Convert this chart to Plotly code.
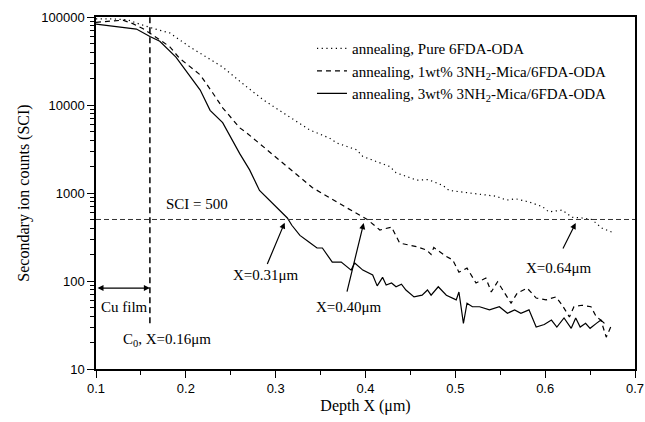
import math
import plotly.graph_objects as go

# ---- data ----
depth_pure = [0.1, 0.12, 0.135, 0.15, 0.168, 0.182, 0.204, 0.241, 0.268, 0.286, 0.304, 0.338, 0.36,
              0.368, 0.39, 0.397, 0.427, 0.434, 0.457, 0.47, 0.486, 0.493, 0.516, 0.545, 0.557, 0.567,
              0.582, 0.597, 0.604, 0.619, 0.63, 0.641, 0.652, 0.663, 0.677]
sci_pure = [95000, 95000, 93000, 82000, 72000, 66000, 46000, 27000, 16000, 11500, 8700, 5200, 4200,
            3700, 3100, 2600, 2000, 1700, 1400, 1420, 1220, 1070, 1000, 920, 830, 860,
            790, 700, 610, 640, 530, 520, 500, 400, 350]

depth_1wt = [0.1, 0.115, 0.13, 0.141, 0.152, 0.17, 0.182, 0.193, 0.216, 0.23, 0.241, 0.26, 0.268,
             0.304, 0.341, 0.379, 0.397, 0.402, 0.416, 0.429, 0.438, 0.457, 0.468, 0.473, 0.476,
             0.49, 0.497, 0.504, 0.513, 0.523, 0.534, 0.54, 0.547, 0.554, 0.562, 0.569, 0.58,
             0.59, 0.601, 0.612, 0.619, 0.627, 0.632, 0.641, 0.651, 0.657, 0.662, 0.668, 0.673]
sci_1wt = [87000, 90000, 92000, 84000, 74000, 56000, 46000, 34000, 22000, 13700, 9300, 5500, 4800,
           2370, 1150, 680, 530, 500, 380, 410, 270, 245, 225, 200, 240,
           190, 174, 126, 140, 95, 108, 75, 98, 75, 56, 73, 83,
           64, 61, 66, 53, 39, 51, 53, 51, 39, 36, 23, 30]

depth_3wt = [0.1, 0.12, 0.145, 0.16, 0.171, 0.189, 0.216, 0.227, 0.241, 0.26, 0.271, 0.282, 0.301,
             0.313, 0.318, 0.327, 0.337, 0.346, 0.352, 0.363, 0.373, 0.384, 0.388, 0.397, 0.408,
             0.413, 0.419, 0.423, 0.429, 0.434, 0.44, 0.445, 0.454, 0.463, 0.469, 0.473, 0.481,
             0.49, 0.501, 0.504, 0.509, 0.513, 0.519, 0.527, 0.538, 0.549, 0.558, 0.566, 0.573,
             0.582, 0.59, 0.599, 0.607, 0.613, 0.621, 0.629, 0.634, 0.639, 0.645, 0.65, 0.657,
             0.662, 0.666]
sci_3wt = [83000, 78000, 73000, 60000, 53000, 35000, 14800, 8700, 6300, 2800, 1830, 1070, 690,
           520, 430, 330, 277, 237, 237, 164, 164, 133, 160, 133, 117,
           88, 110, 90, 95, 86, 92, 79, 66, 69, 79, 69, 86,
           69, 61, 75, 33, 56, 51, 51, 47, 51, 43, 47, 43,
           47, 30, 32, 36, 30, 38, 29, 38, 30, 33, 29, 33,
           36, 33]

series_names = ["annealing, Pure 6FDA-ODA",
                "annealing, 1wt% 3NH<sub>2</sub>-Mica/6FDA-ODA",
                "annealing, 3wt% 3NH<sub>2</sub>-Mica/6FDA-ODA"]

sci_threshold = 500
cu_edge = 0.16
x_range = [0.1, 0.7]
x_ticks = [0.1, 0.2, 0.3, 0.4, 0.5, 0.6, 0.7]
y_ticks = [10, 100, 1000, 10000, 100000]

SERIF = "Liberation Serif, Times New Roman, serif"
SANS = "Liberation Sans, Arial, sans-serif"

fig = go.Figure()
fig.add_trace(go.Scatter(x=depth_pure, y=sci_pure, mode="lines", name=series_names[0],
                         line=dict(color="black", width=1.2, dash="1.2px,3.5px")))
fig.add_trace(go.Scatter(x=depth_1wt, y=sci_1wt, mode="lines", name=series_names[1],
                         line=dict(color="black", width=1.2, dash="5px,4px")))
fig.add_trace(go.Scatter(x=depth_3wt, y=sci_3wt, mode="lines", name=series_names[2],
                         line=dict(color="black", width=1.2)))

# reference lines
fig.add_trace(go.Scatter(x=x_range, y=[sci_threshold, sci_threshold], mode="lines", showlegend=False,
                         line=dict(color="#333333", width=1, dash="5px,3px"), hoverinfo="skip"))
fig.add_trace(go.Scatter(x=[cu_edge, cu_edge], y=[33, 100000], mode="lines", showlegend=False,
                         line=dict(color="black", width=1.5, dash="6px,4px"), hoverinfo="skip"))

L = math.log10
anns = []
# arrows (text-less)
for head, tail in [((0.31, 460), (0.29, 150)),
                   ((0.398, 455), (0.379, 73)),
                   ((0.634, 455), (0.619, 225))]:
    anns.append(dict(x=head[0], y=L(head[1]), ax=tail[0], ay=L(tail[1]), xref="x", yref="y",
                     axref="x", ayref="y", text="", showarrow=True, arrowhead=2, arrowsize=1,
                     arrowwidth=1.2, arrowcolor="black", standoff=0, startstandoff=0))
# Cu film double arrow
anns.append(dict(x=cu_edge, y=L(83), ax=0.1, ay=L(83), xref="x", yref="y", axref="x", ayref="y",
                 text="", showarrow=True, arrowhead=2, startarrowhead=2, arrowside="end+start",
                 arrowsize=1, arrowwidth=1.2, arrowcolor="black", standoff=0, startstandoff=0))

texts = [
    ("SCI = 500", 0.212, 750),
    ("X=0.31μm", 0.289, 117),
    ("X=0.40μm", 0.382, 51),
    ("X=0.64μm", 0.6156, 141),
    ("C<sub>0</sub>, X=0.16μm", 0.179, 21.5),
]
for t, x, y in texts:
    anns.append(dict(x=x, y=L(y), xref="x", yref="y", text=t, showarrow=False,
                     font=dict(family=SERIF, size=15, color="black")))
anns.append(dict(x=0.1035, y=L(50), xref="x", yref="y", text="Cu film", showarrow=False,
                 xanchor="left", font=dict(family=SERIF, size=15, color="black")))

fig.update_layout(
    width=645, height=422,
    margin=dict(l=96, r=10, t=17, b=53, autoexpand=False),
    paper_bgcolor="white", plot_bgcolor="white",
    showlegend=True,
    legend=dict(x=0.4007, y=0.957, xanchor="left", yanchor="top", bgcolor="rgba(0,0,0,0)",
                font=dict(family=SERIF, size=15, color="black"), tracegroupgap=0),
    annotations=anns,
    xaxis=dict(range=x_range, tickvals=x_ticks, ticktext=[str(v) for v in x_ticks],
               ticks="outside", ticklen=7, tickwidth=1.2, tickcolor="black",
               showline=True, linecolor="black", linewidth=1.5, mirror=True,
               showgrid=False, zeroline=False, automargin=False,
               minor=dict(ticks="outside", ticklen=4, dtick=0.05, tickcolor="black", showgrid=False),
               tickfont=dict(family=SANS, size=13, color="black"),
               title=dict(text="Depth X (μm)", font=dict(family=SERIF, size=16, color="black"),
                          standoff=4)),
    yaxis=dict(type="log", range=[1, 5], tickvals=y_ticks, ticktext=[str(v) for v in y_ticks],
               ticks="outside", ticklen=7, tickwidth=1.2, tickcolor="black",
               showline=True, linecolor="black", linewidth=1.5, mirror=True,
               showgrid=False, zeroline=False, automargin=False,
               minor=dict(ticks="outside", ticklen=4, tickcolor="black", showgrid=False,
                          tickvals=[m * d for d in [10, 100, 1000, 10000] for m in range(2, 10)]),
               tickfont=dict(family=SANS, size=13, color="black"),
               title=dict(text="Secondary ion counts (SCI)",
                          font=dict(family=SERIF, size=16, color="black"), standoff=8)),
)

# remove the default 8px page margin so the 645x422 figure fills the window exactly
fig.write_html("out.html", config={"displayModeBar": False},
               post_script="document.body.style.margin='0';document.body.style.overflow='hidden';")
